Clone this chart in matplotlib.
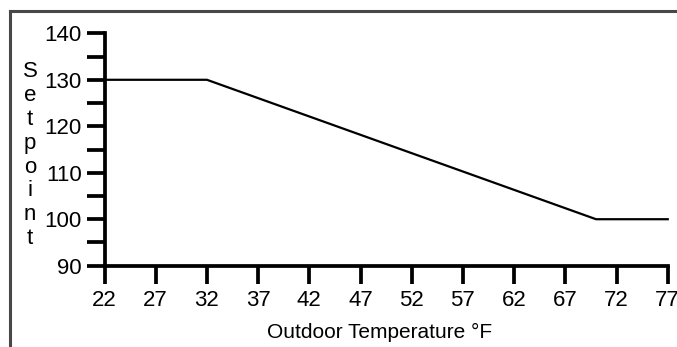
import matplotlib
matplotlib.use("Agg")
import matplotlib.pyplot as plt
from matplotlib.lines import Line2D
from matplotlib.ticker import MultipleLocator

# reset curve: outdoor temperature (F) -> water setpoint
outdoor_temp = [22, 32, 70, 77]
setpoint = [130, 130, 100, 100]
x_ticks = [22, 27, 32, 37, 42, 47, 52, 57, 62, 67, 72, 77]
y_ticks = [90, 100, 110, 120, 130, 140]

plt.rcParams['font.family'] = ['Liberation Sans', 'DejaVu Sans']
plt.rcParams['font.size'] = 16

fig = plt.figure(figsize=(6.77, 3.47), dpi=100)
ax = fig.add_axes([0.1544, 0.2343, 0.8319, 0.6697])

ax.plot(outdoor_temp, setpoint, color='black', linewidth=1.6, clip_on=False)

ax.set_xlim(22, 77)
ax.set_ylim(90, 140)
ax.set_xticks(x_ticks)
ax.set_yticks(y_ticks)
ax.yaxis.set_minor_locator(MultipleLocator(5))

for side in ['top', 'right']:
    ax.spines[side].set_visible(False)
for side in ['left', 'bottom']:
    ax.spines[side].set_linewidth(2.7)
    ax.spines[side].set_capstyle('projecting')

ax.tick_params(axis='both', which='both', direction='out', length=13, width=2.7, color='black')
ax.tick_params(axis='y', pad=3.5, labelsize=16)
ax.tick_params(axis='x', pad=4.5, labelsize=16)

# axis titles
fig.text(0.561, 0.041, 'Outdoor Temperature \u00b0F', ha='center', va='center', fontsize=15)
fig.text(0.0443, 0.553, '\n'.join('Setpoint'), ha='center', va='center',
         fontsize=16, linespacing=1.18)

# outer frame
frame_col = '#484848'
fig.add_artist(Line2D([9.5 / 677, 1.0], [1 - 10.5 / 347, 1 - 10.5 / 347],
                      transform=fig.transFigure, color=frame_col, linewidth=2.2))
fig.add_artist(Line2D([9.5 / 677, 9.5 / 677], [1 - 10.5 / 347, 0.0],
                      transform=fig.transFigure, color=frame_col, linewidth=2.2))

fig.savefig('out.png', dpi=100)
